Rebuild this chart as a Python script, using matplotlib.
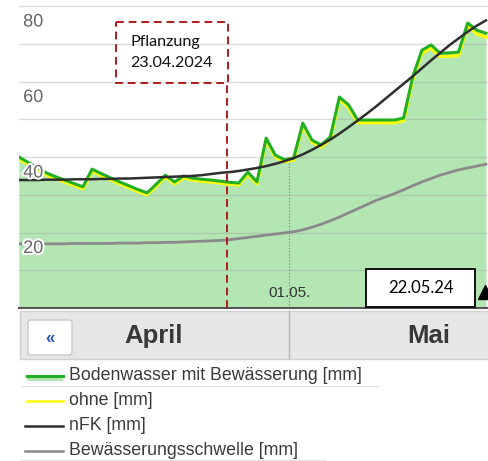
import matplotlib
matplotlib.use('Agg')
import matplotlib.pyplot as plt
import matplotlib.dates as mdates
import matplotlib.patheffects as pe
from matplotlib.patches import Rectangle, FancyBboxPatch
import pandas as pd
import numpy as np

# ---------------- data ----------------
dates = pd.date_range('2024-04-01 12:00', '2024-05-22 12:00', freq='D')

bodenwasser_mit = [40.0, 38.6, 37.2, 35.8, 34.8, 33.9, 33.0, 32.1, 36.8, 35.6,
                   34.5, 33.4, 32.4, 31.4, 30.5, 32.8, 35.2, 33.4, 35.0, 34.4,
                   34.1, 33.9, 33.6, 33.3, 33.1, 36.0, 33.4, 45.0, 40.5, 39.3,
                   39.7, 49.0, 44.5, 43.2, 45.3, 55.9, 53.8, 49.8, 49.8, 49.8,
                   49.8, 49.8, 50.3, 61.2, 68.3, 69.7, 67.5, 67.6, 67.8, 75.5,
                   73.6, 72.8]
ohne = [39.5, 38.1, 36.7, 35.3, 34.3, 33.4, 32.5, 31.6, 36.3, 35.1,
        34.0, 32.9, 31.9, 30.9, 30.0, 32.3, 34.7, 32.9, 34.5, 33.9,
        33.6, 33.4, 33.1, 32.8, 32.6, 35.5, 32.9, 44.5, 40.0, 38.8,
        39.2, 48.5, 44.0, 42.6, 44.7, 55.3, 53.1, 49.1, 49.1, 49.1,
        49.1, 49.1, 49.6, 60.5, 67.5, 68.9, 66.6, 66.7, 66.9, 74.7,
        72.6, 71.8]
nfk = [33.9, 33.9, 33.9, 34.0, 34.0, 34.0, 34.1, 34.1, 34.1, 34.2,
       34.2, 34.3, 34.3, 34.4, 34.5, 34.6, 34.7, 34.8, 34.9, 35.0,
       35.2, 35.5, 35.8, 36.0, 36.3, 36.7, 37.1, 37.6, 38.2, 38.9,
       39.7, 40.7, 41.9, 43.2, 44.6, 46.2, 47.9, 49.7, 51.5, 53.4,
       55.4, 57.4, 59.4, 61.4, 63.5, 65.6, 67.6, 69.6, 71.4, 73.2,
       74.8, 76.2]
schwelle = [17.0, 17.0, 17.0, 17.0, 17.0, 17.0, 17.1, 17.1, 17.1, 17.1,
            17.1, 17.2, 17.2, 17.2, 17.3, 17.3, 17.4, 17.4, 17.5, 17.6,
            17.7, 17.8, 17.9, 18.1, 18.4, 18.7, 19.0, 19.3, 19.6, 19.9,
            20.2, 20.7, 21.4, 22.2, 23.1, 24.1, 25.2, 26.3, 27.4, 28.5,
            29.4, 30.3, 31.3, 32.4, 33.4, 34.3, 35.2, 35.9, 36.6, 37.1,
            37.6, 38.1]

y_labels = [20, 40, 60, 80]
month_labels = ['April', 'Mai']
legend_labels = ['Bodenwasser mit Bewässerung [mm]', 'ohne [mm]', 'nFK [mm]',
                 'Bewässerungsschwelle [mm]']
pflanzung_lines = ['Pflanzung', '23.04.2024']
pflanzung_pos = pd.Timestamp('2024-04-24 05:30')
monatsbeginn = pd.Timestamp('2024-05-01 00:00')
heute_text = '22.05.24'

# ---------------- style ----------------
GREEN = '#22b022'
FILL = '#b4e6b4'
YELLOW = '#ffff00'
BLACK = '#2e2e2e'
GRAY = '#8a8a8a'
RED = '#b01c1c'

W, H = 488, 461
fig = plt.figure(figsize=(W / 100, H / 100), dpi=100)
plt.rcParams['font.family'] = ['Liberation Sans', 'DejaVu Sans']

ax = fig.add_axes([19 / W, 1 - 308 / H, (488 - 19) / W, 308 / H])
x0 = mdates.date2num(monatsbeginn)
ax.set_xlim(x0 - 29.48, x0 + 21.72)
ax.set_ylim(0, 81.6)
for s in ['top', 'left', 'right']:
    ax.spines[s].set_visible(False)
ax.spines['bottom'].set_color('#555555')
ax.spines['bottom'].set_linewidth(1.5)
ax.set_xticks([])
ax.set_yticks([])

xd = mdates.date2num(dates)
ax.fill_between(xd, 0, bodenwasser_mit, color=FILL, lw=0, zorder=1)
for v in range(10, 81, 10):
    ax.axhline(v, color='#999999', alpha=0.35, lw=1.0, zorder=1.5)

ax.plot(xd, ohne, color=YELLOW, lw=2.4, zorder=3, solid_joinstyle='round')
ax.plot(xd, bodenwasser_mit, color=GREEN, lw=2.2, zorder=4, solid_joinstyle='round')
ax.plot(xd, schwelle, color=GRAY, lw=2.0, zorder=5)
ax.plot(xd, nfk, color=BLACK, lw=1.8, zorder=6)

# dotted month marker
nfk_at = np.interp(x0, xd, nfk)
ax.plot([x0, x0], [0, nfk_at], color='#888888', lw=0.9, ls=(0, (1, 1.5)), zorder=2)
ax.annotate('01.05.', xy=(x0, 0), xycoords='data', xytext=(0, 6), textcoords='offset points',
            ha='center', va='bottom', fontsize=11, color='#333333', zorder=7)

# y labels (inside, below their grid lines)
for v in y_labels:
    ax.annotate(str(v), xy=(0, v), xycoords=('axes fraction', 'data'),
                xytext=(3, -11.5), textcoords='offset points', ha='left', va='center',
                fontsize=13, color='#666666', zorder=8,
                path_effects=[pe.withStroke(linewidth=3, foreground='white')])

# Pflanzung line
xp = mdates.date2num(pflanzung_pos)
ax.plot([xp, xp], [0, (308 - 83) / 3.775], color=RED, lw=1.4, ls=(0, (4, 2.5)),
        zorder=9, clip_on=False)

# ---------------- overlay (pixel coordinates) ----------------
ov = fig.add_axes([0, 0, 1, 1], zorder=10)
ov.set_xlim(0, W)
ov.set_ylim(H, 0)
ov.axis('off')
ov.patch.set_alpha(0)

ov.add_patch(Rectangle((116, 22), 112, 61, fill=False, ec=RED, lw=1.4, ls=(0, (4, 2.5))))
ov.text(130, 42, pflanzung_lines[0], fontsize=11.6, family=['Lato', 'DejaVu Sans'],
        color='#111111', ha='left', va='center')
ov.text(130, 63, pflanzung_lines[1], fontsize=11.6, family=['Lato', 'DejaVu Sans'],
        color='#111111', ha='left', va='center')

ov.add_patch(Rectangle((366, 269), 109, 38, fc='white', ec='black', lw=1.3))
ov.text(420.5, 288, heute_text, fontsize=12, family=['Lato', 'DejaVu Sans'],
        color='black', ha='center', va='center')
ov.plot(485, 292, marker='^', ms=10, color='black', clip_on=True)

# navigator bar
ov.add_patch(Rectangle((20, 311), 470, 48, fc='#e6e6e6', ec='#d0d0d0', lw=1))
ov.plot([289, 289], [311, 359], color='#b8b8b8', lw=1)
ov.add_patch(FancyBboxPatch((28, 320), 44, 35, boxstyle='round,pad=0,rounding_size=3',
                            fc='white', ec='#c8c8c8', lw=1))
ov.text(50, 338, '«', fontsize=12, color='#2255bb', ha='center', va='center', fontweight='bold')
ov.text(154, 336, month_labels[0], fontsize=18.5, fontweight='bold', color='#383838',
        ha='center', va='center')
ov.text(429, 336, month_labels[1], fontsize=18.5, fontweight='bold', color='#383838',
        ha='center', va='center')

# legend
rows = [375, 400, 425, 450]
ov.add_patch(Rectangle((27, 375.5), 36, 5, fc=FILL, ec='none'))
ov.plot([27, 63], [375.5, 375.5], color=GREEN, lw=2.2)
ov.plot([27, 63], [401, 401], color=YELLOW, lw=1.8)
ov.plot([25, 63], [426, 426], color=BLACK, lw=1.8)
ov.plot([25, 63], [451, 451], color=GRAY, lw=1.8)
for y, lab in zip(rows, legend_labels):
    ov.text(69, y, lab, fontsize=12.8, color='#3a3a3a', ha='left', va='center')
ov.plot([22, 378], [386, 386], color='#e4e4e4', lw=1)
ov.plot([20, 325], [460, 460], color='#e4e4e4', lw=1)

fig.savefig('out.png', dpi=100)
